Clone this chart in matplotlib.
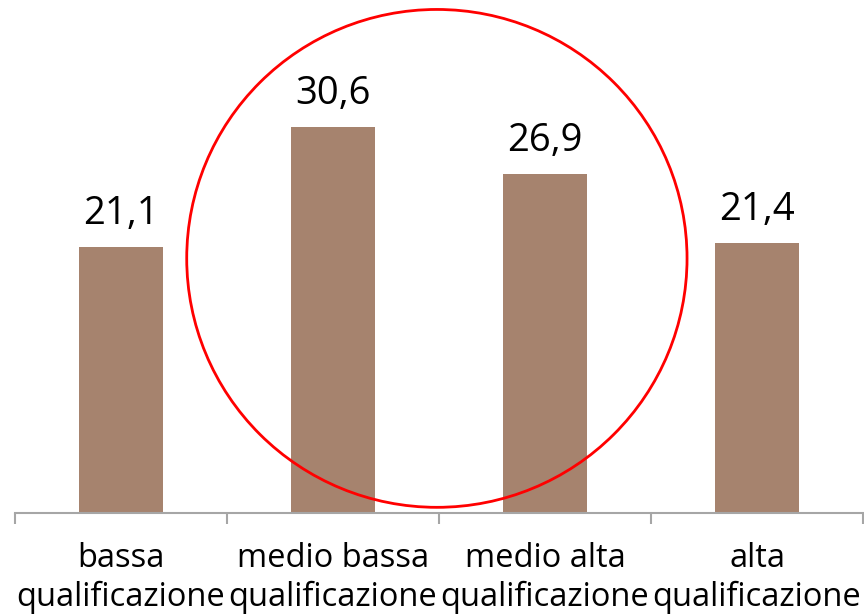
import matplotlib
matplotlib.use("Agg")
import matplotlib.pyplot as plt
from matplotlib.patches import Ellipse

categories = ["bassa\nqualificazione", "medio bassa\nqualificazione",
              "medio alta\nqualificazione", "alta\nqualificazione"]
values = [21.1, 30.6, 26.9, 21.4]
value_labels = ["21,1", "30,6", "26,9", "21,4"]

plt.rcParams["font.family"] = ["Open Sans", "DejaVu Sans"]

fig = plt.figure(figsize=(8.64, 6.16), dpi=100)
ax = fig.add_axes([15 / 864, 103 / 616, 848 / 864, 513 / 616])
x = range(len(values))
ax.bar(x, values, width=0.4, color="#A6836E")
for xi, v, lab in zip(x, values, value_labels):
    ax.text(xi, v + 1.1, lab, ha="center", va="bottom", fontsize=27.5)

ax.set_xlim(-0.5, 3.5)
ax.set_ylim(0, 40.7)
for s in ["top", "right", "left"]:
    ax.spines[s].set_visible(False)
ax.spines["bottom"].set_color("#A6A6A6")
ax.spines["bottom"].set_linewidth(1.5)
ax.set_yticks([])
ax.set_xticks([-0.5, 0.5, 1.5, 2.5, 3.5])
ax.set_xticklabels([])
ax.tick_params(axis="x", length=8, width=1.5, color="#A6A6A6")
ax.set_xticks(list(x), categories, minor=True)
ax.tick_params(axis="x", which="minor", length=0, labelsize=23.5, pad=21)
for t in ax.get_xticklabels(minor=True):
    t.set_linespacing(1.22)

circ = Ellipse((1.49, 20.2), 2.36, 39.5, fill=False, edgecolor="red",
               linewidth=2, clip_on=False)
ax.add_patch(circ)

fig.savefig("out.png", dpi=100)
